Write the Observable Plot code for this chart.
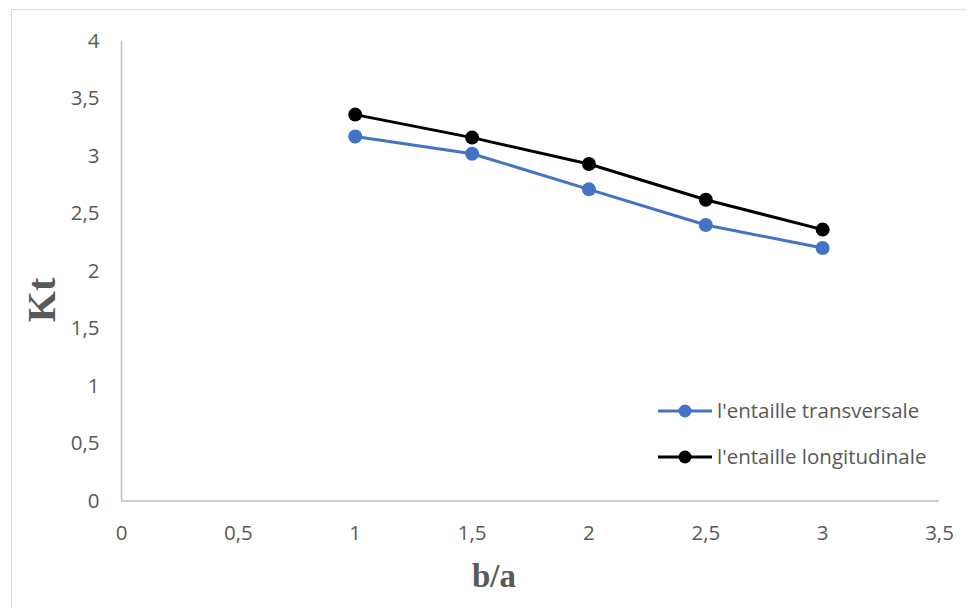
<!DOCTYPE html>
<html>
<head>
<meta charset="utf-8">
<script src="https://cdn.jsdelivr.net/npm/d3@7"></script>
<script src="https://cdn.jsdelivr.net/npm/@observablehq/plot@0.6"></script>
<style>
  body { margin: 0; background: #fff; }
  #wrap { position: relative; width: 966px; height: 608px; overflow: hidden; background: #fff; }
  #frame { position: absolute; left: 11px; top: 9px; width: 970px; height: 620px; border: 1px solid #d9d9d9; box-sizing: border-box; pointer-events: none; }
</style>
</head>
<body>
<div id="wrap"><div id="frame"></div></div>
<script>
// ---- data ----
const ratios = [1, 1.5, 2, 2.5, 3];
const ktTransversal = [3.17, 3.02, 2.71, 2.40, 2.20];
const ktLongitudinal = [3.36, 3.16, 2.93, 2.62, 2.36];
const seriesNames = ["l'entaille transversale", "l'entaille longitudinale"];
const seriesColors = ["#4472C4", "#000000"];
const xTicks = [0, 0.5, 1, 1.5, 2, 2.5, 3, 3.5];
const yTicks = [0, 0.5, 1, 1.5, 2, 2.5, 3, 3.5, 4];
const xTitle = "b/a";
const yTitle = "Kt";

const rows = [];
ratios.forEach((r, i) => rows.push({ series: seriesNames[0], x: r, y: ktTransversal[i] }));
ratios.forEach((r, i) => rows.push({ series: seriesNames[1], x: r, y: ktLongitudinal[i] }));

const fmt = d => String(d).replace(".", ",");
const textColor = "#595959";
const sans = "'Open Sans', Lato, sans-serif";

const chart = Plot.plot({
  width: 966,
  height: 608,
  marginLeft: 121,
  marginRight: 27,
  marginTop: 40.5,
  marginBottom: 107.5,
  style: { fontFamily: sans, fontSize: "20.5px", color: textColor, background: "transparent" },
  x: { domain: [0, 3.5] },
  y: { domain: [0, 4] },
  color: { domain: seriesNames, range: seriesColors },
  marks: [
    Plot.ruleX([0], { stroke: "#bfbfbf", strokeWidth: 1.5 }),
    Plot.ruleY([0], { stroke: "#bfbfbf", strokeWidth: 1.5 }),
    Plot.axisX(xTicks, { tickSize: 0, tickPadding: 24, tickFormat: fmt, label: null, fill: textColor }),
    Plot.axisY(yTicks, { tickSize: 0, tickPadding: 22, tickFormat: fmt, label: null, fill: textColor }),
    Plot.line(rows, { x: "x", y: "y", z: "series", stroke: "series", strokeWidth: 3 }),
    Plot.dot(rows, { x: "x", y: "y", fill: "series", r: 7 })
  ]
});

const svg = d3.select(chart);
// axis titles
svg.append("text")
  .attr("transform", "translate(41,300) rotate(-90)")
  .attr("text-anchor", "middle")
  .attr("dominant-baseline", "central")
  .attr("font-family", "'Liberation Serif', 'DejaVu Serif', serif")
  .attr("font-weight", "bold")
  .attr("font-size", 40)
  .attr("fill", textColor)
  .text(yTitle);
svg.append("text")
  .attr("x", 494)
  .attr("y", 587)
  .attr("text-anchor", "middle")
  .attr("font-family", "'Liberation Serif', 'DejaVu Serif', serif")
  .attr("font-weight", "bold")
  .attr("font-size", 33)
  .attr("fill", textColor)
  .text(xTitle);

// legend
const leg = svg.append("g").attr("transform", "translate(658,411)");
seriesNames.forEach((name, i) => {
  const g = leg.append("g").attr("transform", `translate(0,${i * 46})`);
  g.append("line").attr("x1", 0).attr("x2", 54).attr("y1", 0).attr("y2", 0)
    .attr("stroke", seriesColors[i]).attr("stroke-width", 3);
  g.append("circle").attr("cx", 27).attr("cy", 0).attr("r", 6.5).attr("fill", seriesColors[i]);
  g.append("text").attr("x", 59).attr("y", 0).attr("dy", "0.35em")
    .attr("text-anchor", "start")
    .attr("font-family", sans).attr("font-size", 20.5)
    .attr("fill", textColor).text(name);
});

document.getElementById("wrap").prepend(chart);
</script>
</body>
</html>
